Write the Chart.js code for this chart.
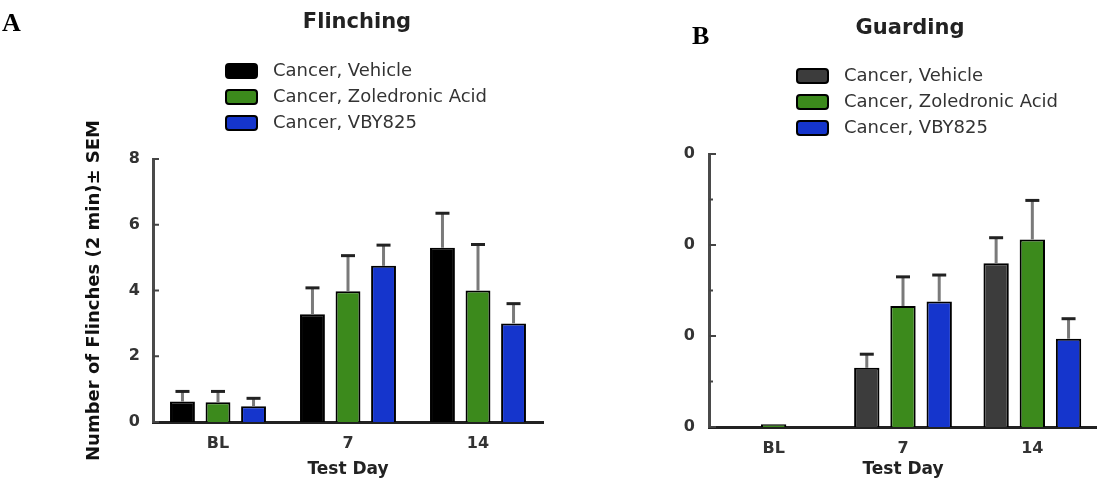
<!DOCTYPE html>
<html>
<head>
<meta charset="utf-8">
<script src="https://cdn.jsdelivr.net/npm/chart.js@4.4.1/dist/chart.umd.min.js"></script>
<style>
  html, body { margin: 0; padding: 0; background: #fff; }
  #wrap { position: relative; width: 1097px; height: 481px; overflow: hidden; }
  canvas { position: absolute; top: 0; }
  #chartA { left: 0; }
  #chartB { left: 560px; }
  .letter { position: absolute; font: bold 26px "Liberation Serif", serif; line-height: 26px; color: #000; }
</style>
</head>
<body>
<div id="wrap">
  <canvas id="chartA" width="560" height="481"></canvas>
  <canvas id="chartB" width="537" height="481"></canvas>
  <div class="letter" style="left:2px; top:10px;">A</div>
  <div class="letter" style="left:692px; top:23px;">B</div>
</div>
<script>
// shared categories / series
const categories = ['BL', '7', '14'];
const seriesNames = ['Cancer, Vehicle', 'Cancer, Zoledronic Acid', 'Cancer, VBY825'];

// Panel A - Flinching (mean, + SEM)
const flinchVehicle = [0.62, 3.28, 5.3];
const flinchZoledronic = [0.6, 3.98, 4.0];
const flinchVBY = [0.48, 4.75, 3.0];
const flinchVehicleSem = [0.31, 0.8, 1.05];
const flinchZoledronicSem = [0.33, 1.08, 1.4];
const flinchVBYSem = [0.24, 0.63, 0.6];

// Panel B - Guarding (mean, + SEM)
const guardVehicle = [0, 6.5, 18.0];
const guardZoledronic = [0.3, 13.3, 20.6];
const guardVBY = [0, 13.8, 9.7];
const guardVehicleSem = [0, 1.5, 2.8];
const guardZoledronicSem = [0, 3.2, 4.3];
const guardVBYSem = [0, 2.9, 2.2];
// left edge of panel B is cropped, only the last digit of each label shows
const guardMajorTicks = [0, 10, 20, 30];
const guardTickText = ['0', '0', '0', '0'];

const tickFont = { family: 'DejaVu Sans', size: 16, weight: 'bold' };
const titleFont = { family: 'DejaVu Sans', size: 17, weight: 'bold' };
const yTitleFont = { family: 'DejaVu Sans', size: 18, weight: 'bold' };

// inward tick marks, error bars, title and stacked legend
const panelExtras = {
    id: 'panelExtras',
    afterDraw(chart, args, opts) {
        const ctx = chart.ctx;
        const area = chart.chartArea;
        const yScale = chart.scales.y;
        ctx.save();

        ctx.strokeStyle = '#444';
        ctx.lineWidth = 2;
        yScale.ticks.forEach(t => {
            const py = yScale.getPixelForValue(t.value);
            const len = t.label ? opts.majorTick : opts.minorTick;
            ctx.beginPath();
            ctx.moveTo(area.left, py);
            ctx.lineTo(area.left + len, py);
            ctx.stroke();
        });

        chart.data.datasets.forEach((ds, i) => {
            chart.getDatasetMeta(i).data.forEach((bar, j) => {
                const sem = opts.sem[i][j];
                if (!sem) return;
                const yTop = yScale.getPixelForValue(ds.data[j] + sem);
                ctx.lineWidth = 3;
                ctx.strokeStyle = '#7a7a7a';
                ctx.beginPath();
                ctx.moveTo(bar.x, bar.y);
                ctx.lineTo(bar.x, yTop);
                ctx.stroke();
                ctx.strokeStyle = '#222';
                ctx.beginPath();
                ctx.moveTo(bar.x - 7, yTop);
                ctx.lineTo(bar.x + 7, yTop);
                ctx.stroke();
            });
        });

        ctx.fillStyle = '#222';
        ctx.font = 'bold 21px "DejaVu Sans"';
        ctx.textAlign = 'center';
        ctx.textBaseline = 'alphabetic';
        ctx.fillText(opts.title, opts.titleX, opts.titleY);

        ctx.font = '18px "DejaVu Sans"';
        ctx.textAlign = 'left';
        ctx.textBaseline = 'middle';
        chart.data.datasets.forEach((ds, i) => {
            const cy = opts.legendY + i * 26;
            ctx.beginPath();
            ctx.roundRect(opts.legendX, cy - 7, 31, 14, 3);
            ctx.fillStyle = ds.backgroundColor;
            ctx.fill();
            ctx.lineWidth = 2;
            ctx.strokeStyle = '#000';
            ctx.stroke();
            ctx.fillStyle = '#333';
            ctx.fillText(ds.label, opts.legendX + 47, cy);
        });
        ctx.restore();
    }
};

function buildChart(id, o) {
    return new Chart(document.getElementById(id), {
        type: 'bar',
        data: {
            labels: categories,
            datasets: o.series.map((vals, i) => ({
                label: seriesNames[i],
                data: vals,
                backgroundColor: o.colors[i],
                borderColor: '#000',
                borderWidth: 2,
                categoryPercentage: o.catPct,
                barPercentage: 0.7
            }))
        },
        plugins: [panelExtras],
        options: {
            responsive: false,
            animation: false,
            layout: { padding: o.padding },
            plugins: {
                legend: { display: false },
                tooltip: { enabled: false },
                panelExtras: o.extras
            },
            scales: {
                x: {
                    grid: { display: false, drawTicks: false },
                    border: { display: true, color: '#222', width: 3 },
                    ticks: { font: tickFont, color: '#333', padding: 12 },
                    title: { display: true, text: 'Test Day', font: titleFont, color: '#222', padding: 0 },
                    afterFit: s => { s.height = o.xHeight; }
                },
                y: {
                    min: 0,
                    max: o.yMax,
                    grid: { display: false, drawTicks: false },
                    border: { display: true, color: '#4a4a4a', width: 3 },
                    ticks: { stepSize: o.step, font: tickFont, color: '#333', padding: o.tickPad, callback: o.tickCb },
                    title: o.yTitle,
                    afterFit: s => { s.width = o.yWidth; }
                }
            }
        }
    });
}

buildChart('chartA', {
    series: [flinchVehicle, flinchZoledronic, flinchVBY],
    colors: ['#000000', '#3c8a1c', '#1535cc'],
    catPct: 0.82,
    padding: { left: 84, top: 159, right: 17, bottom: 1 },
    xHeight: 58,
    yWidth: 69,
    yMax: 8,
    step: 2,
    tickPad: 13,
    tickCb: v => String(v),
    yTitle: { display: true, text: 'Number of Flinches (2 min)± SEM', font: yTitleFont, color: '#111', padding: 0 },
    extras: {
        sem: [flinchVehicleSem, flinchZoledronicSem, flinchVBYSem],
        majorTick: 6, minorTick: 4,
        title: 'Flinching', titleX: 357, titleY: 28,
        legendX: 226, legendY: 71
    }
});

buildChart('chartB', {
    series: [guardVehicle, guardZoledronic, guardVBY],
    colors: ['#3c3c3c', '#3c8a1c', '#1535cc'],
    catPct: 0.84,
    padding: { left: 100, top: 154, right: 0, bottom: 1 },
    xHeight: 53,
    yWidth: 49,
    yMax: 30,
    step: 5,
    tickPad: 14,
    tickCb: v => {
        const k = guardMajorTicks.indexOf(v);
        return k >= 0 ? guardTickText[k] : '';
    },
    yTitle: { display: false },
    extras: {
        sem: [guardVehicleSem, guardZoledronicSem, guardVBYSem],
        majorTick: 7, minorTick: 4,
        title: 'Guarding', titleX: 350, titleY: 34,
        legendX: 237, legendY: 76
    }
});
</script>
</body>
</html>
